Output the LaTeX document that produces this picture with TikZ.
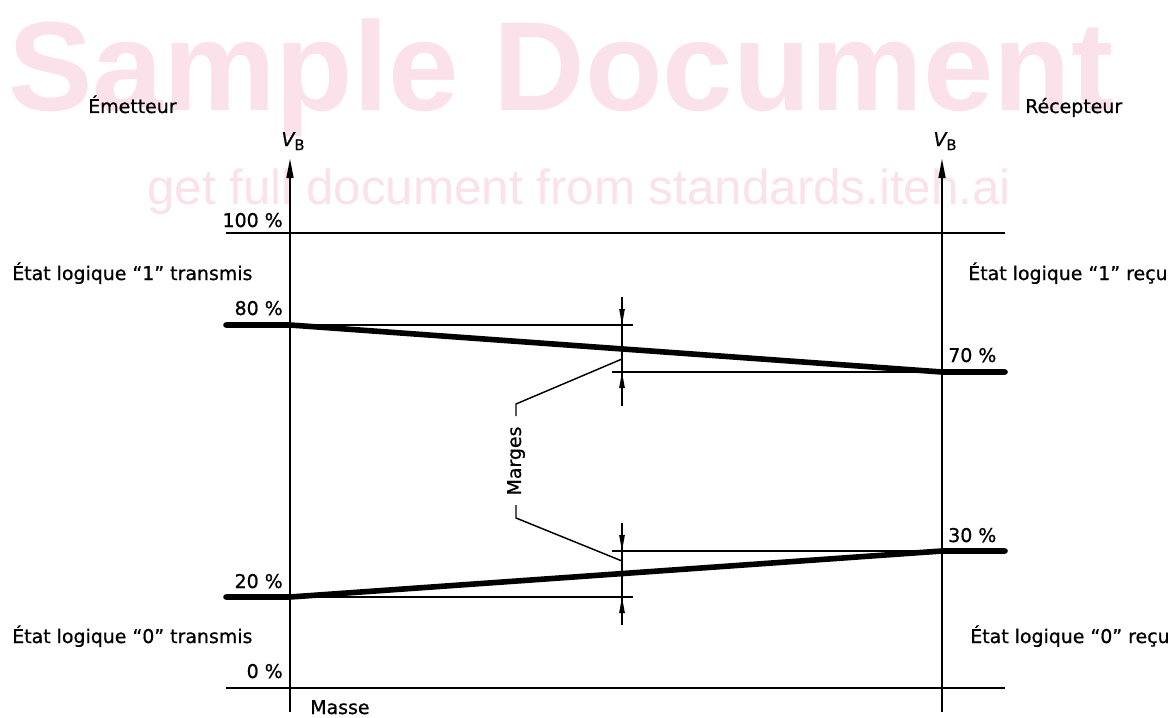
\documentclass[tikz,border=0pt]{standalone}
\usepackage{fontspec}
\setmainfont{DejaVu Sans}
\newfontfamily\wmfont{Liberation Sans}
\newfontfamily\labfont[FakeBold=0.8]{DejaVu Sans}
\usetikzlibrary{arrows.meta}
\definecolor{wmpink}{RGB}{251,226,234}
\begin{document}
\begin{tikzpicture}[x=0.75pt,y=-0.75pt,
  lab/.style={font=\labfont\fontsize{14.2}{17}\selectfont, inner sep=0pt},
  wmbig/.style={font=\wmfont\bfseries\fontsize{95}{95}\selectfont, text=wmpink, inner sep=0pt, anchor=base west},
  wmsmall/.style={font=\wmfont\fontsize{37}{37}\selectfont, text=wmpink, inner sep=0pt, anchor=base west},
  axisline/.style={line width=1.8pt, -{Triangle[length=15pt,width=5pt]}},
  refline/.style={line width=1.5pt},
  thinline/.style={line width=1.1pt},
  sigline/.style={line width=4.2pt, line cap=round, line join=round},
  dimarrow/.style={line width=1.1pt, -{Triangle[length=12pt,width=4pt]}},
  leader/.style={line width=1.1pt}]
\useasboundingbox (0,0) rectangle (1173,717);

% watermark
\node[wmbig] (wm1) at (8,110) {Sample Document};
\node[wmsmall] (wm2) at (147,204) {get full document from standards.iteh.ai};

% coordinates
\coordinate (LB) at (290,712); \coordinate (LT) at (290,158);
\coordinate (RB) at (942,712); \coordinate (RT) at (942,158);
\coordinate (HA) at (226,233); \coordinate (HB) at (1005,233);
\coordinate (ZA) at (226,688); \coordinate (ZB) at (1005,688);
\coordinate (U1) at (226,325); \coordinate (U2) at (290,325);
\coordinate (U3) at (942,372); \coordinate (U4) at (1005,372);
\coordinate (D1) at (226,597); \coordinate (D2) at (290,597);
\coordinate (D3) at (942,551); \coordinate (D4) at (1005,551);

% axes
\draw[axisline] (LB) -- (LT);
\draw[axisline] (RB) -- (RT);
% 100 % and 0 % lines
\draw[refline] (HA) -- (HB);
\draw[refline] (ZA) -- (ZB);
% signal levels
\draw[sigline] (U1) -- (U2) -- (U3) -- (U4);
\draw[sigline] (D1) -- (D2) -- (D3) -- (D4);

% upper margin dimension
\coordinate (UR1) at (633,325);
\coordinate (UR2) at (612,372);
\draw[thinline] (U2) -- (UR1);
\draw[thinline] (UR2) -- (U3);
\coordinate (UT) at (622,297); \coordinate (UTt) at (622,325);
\coordinate (UBt) at (622,372); \coordinate (UB) at (622,406);
\draw[thinline] (UT) -- (UB);
\draw[dimarrow] (UT) -- (UTt);
\draw[dimarrow] (UB) -- (UBt);

% lower margin dimension
\coordinate (LR1) at (612,551);
\coordinate (LR2) at (633,597);
\draw[thinline] (LR1) -- (D3);
\draw[thinline] (D2) -- (LR2);
\coordinate (LT1) at (622,523); \coordinate (LT1t) at (622,551);
\coordinate (LB1t) at (622,597); \coordinate (LB1) at (622,625);
\draw[thinline] (LT1) -- (LB1);
\draw[dimarrow] (LT1) -- (LT1t);
\draw[dimarrow] (LB1) -- (LB1t);

% Marges label and leaders
\node[lab, rotate=90] (marges) at (516,461) {Marges};
\coordinate (M1) at (622,359); \coordinate (M2) at (516,404); \coordinate (M3) at (516,416);
\coordinate (N1) at (622,561); \coordinate (N2) at (516,518); \coordinate (N3) at (516,505);
\draw[leader] (M1) -- (M2) -- (M3);
\draw[leader] (N1) -- (N2) -- (N3);

% labels
\node[lab, anchor=base west] (emet) at (88,113) {Émetteur};
\node[lab, anchor=base west] (recep) at (1025,113) {Récepteur};
\node[lab, anchor=base] (vb1) at (293,146) {\itshape V\raisebox{-0.4ex}{\upshape\fontsize{11}{12}\selectfont B}};
\node[lab, anchor=base] (vb2) at (945,146) {\itshape V\raisebox{-0.4ex}{\upshape\fontsize{11}{12}\selectfont B}};
\node[lab, anchor=base east] (p100) at (283,227) {100 \%};
\node[lab, anchor=base west] (s1t) at (12,280) {État logique “1” transmis};
\node[lab, anchor=base west] (s1r) at (968,280) {État logique “1” reçu};
\node[lab, anchor=base east] (p80) at (283,315) {80 \%};
\node[lab, anchor=base west] (p70) at (948,362) {70 \%};
\node[lab, anchor=base west] (p30) at (948,542) {30 \%};
\node[lab, anchor=base east] (p20) at (283,588) {20 \%};
\node[lab, anchor=base west] (s0t) at (12,643) {État logique “0” transmis};
\node[lab, anchor=base west] (s0r) at (970,643) {État logique “0” reçu};
\node[lab, anchor=base east] (p0) at (283,678) {0 \%};
\node[lab, anchor=base west] (masse) at (310,714) {Masse};
\end{tikzpicture}
\end{document}
